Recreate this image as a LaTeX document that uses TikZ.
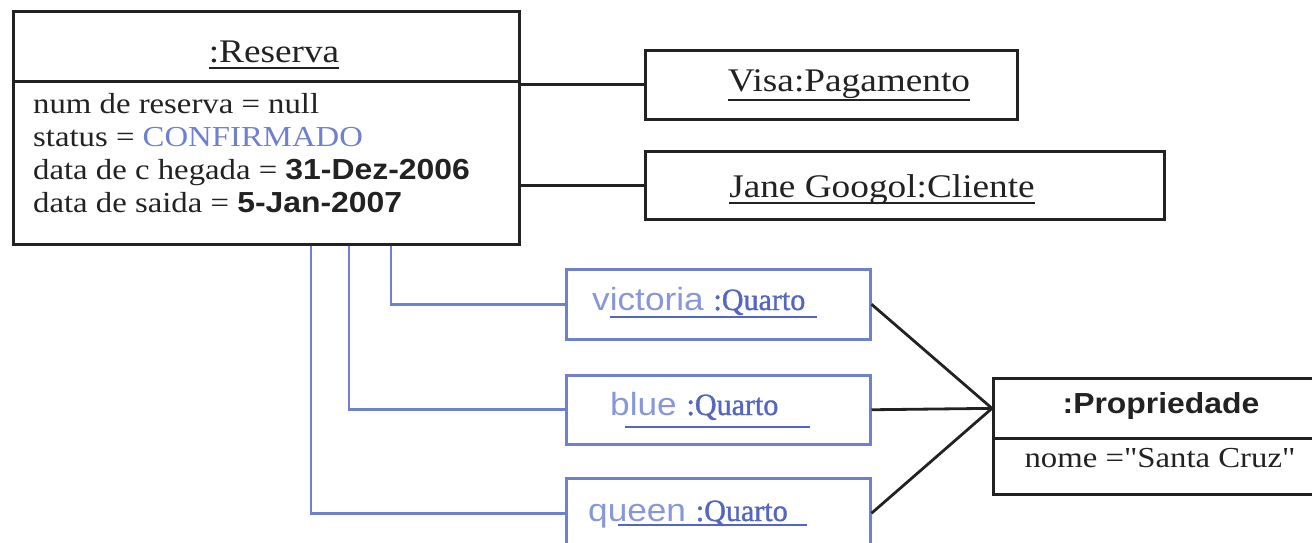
\documentclass[tikz,border=0pt]{standalone}
\usepackage{fontspec}
\newfontfamily\tms[FakeStretch=1.13]{Liberation Serif}
\newfontfamily\qtm[FakeStretch=0.97,FakeBold=1.2]{Liberation Serif}
\newfontfamily\ars[FakeStretch=1.1]{Liberation Sans}
\newcommand\fsz[1]{\fontsize{#1}{#1}\selectfont}
\definecolor{ink}{HTML}{222222}
\definecolor{qblue}{HTML}{6F81CE}
\definecolor{qtext}{HTML}{8797D8}
\definecolor{qdark}{HTML}{5466C0}
\begin{document}
\begin{tikzpicture}[x=1pt, y=-1pt,
  obox/.style={draw=ink, line width=2.7pt, inner sep=0pt, anchor=north west},
  qbox/.style={draw=qblue, line width=2.5pt, inner sep=0pt, anchor=north west,
               minimum width=304pt},
  txt/.style={inner sep=0pt, anchor=base, text=ink},
  ltxt/.style={inner sep=0pt, anchor=base west, text=ink},
  bline/.style={draw=ink, line width=2.8pt},
  qline/.style={draw=qblue, line width=2.7pt},
  uline/.style={draw=ink, line width=2pt},
  qul/.style={draw=qdark, line width=2pt}]
\useasboundingbox (0,0) rectangle (1312,543);

% --- object boxes ---
\node[obox, minimum width=506pt, minimum height=70pt]  (resT) at (12,10) {};
\node[obox, minimum width=506pt, minimum height=163pt] (resA) at (12,80) {};
\node[obox, minimum width=372pt, minimum height=69pt]  (visa) at (644,49) {};
\node[obox, minimum width=519pt, minimum height=68pt]  (jane) at (644,150) {};
\node[qbox, minimum height=70pt] (vic) at (565,268) {};
\node[qbox, minimum height=69pt] (blu) at (565,374) {};
\node[qbox, minimum height=70pt] (que) at (565,477) {};
\node[obox, minimum width=360pt, minimum height=60pt] (propT) at (992,377) {};
\node[obox, minimum width=360pt, minimum height=56pt] (propA) at (992,437) {};

% --- texts ---
\node[txt] (tRes) at (274,63) {\tms\fsz{33}:Reserva};
\node[ltxt] (a1) at (33,113) {\tms\fsz{29}num de reserva = null};
\node[ltxt] (a2) at (33,146) {\tms\fsz{29}status = \textcolor{qblue}{CONFIRMADO}};
\node[ltxt] (a3) at (33,179) {\tms\fsz{29}data de c hegada = {\ars\bfseries\fsz{29}31-Dez-2006}};
\node[ltxt] (a4) at (33,212) {\tms\fsz{29}data de saida = {\ars\bfseries\fsz{29}5-Jan-2007}};
\node[txt] (tVisa) at (849,92) {\tms\fsz{33}Visa:Pagamento};
\node[txt] (tJane) at (882,197) {\tms\fsz{33}Jane Googol:Cliente};
\node[ltxt] (tVic) at (592,310) {{\ars\fsz{32}\color{qtext}victoria }{\qtm\fsz{31}\color{qdark}:Quarto}};
\node[ltxt] (tBlu) at (610,415) {{\ars\fsz{32}\color{qtext}blue }{\qtm\fsz{31}\color{qdark}:Quarto}};
\node[ltxt] (tQue) at (588,521) {{\ars\fsz{32}\color{qtext}queen }{\qtm\fsz{31}\color{qdark}:Quarto}};
\node[txt] (tProp) at (1161,413) {\ars\bfseries\fsz{29}:Propriedade};
\node[txt] (tNome) at (1160,467) {\tms\fsz{29}nome ="Santa Cruz"};

% --- underlines of object names ---
\draw[uline] ([yshift=-5pt]tRes.base west) -- ([yshift=-5pt]tRes.base east);
\draw[uline] ([yshift=-8pt]tVisa.base west) -- ([yshift=-8pt]tVisa.base east);
\draw[uline] ([yshift=-6pt]tJane.base west) -- ([yshift=-6pt]tJane.base east);
\draw[qul] ([xshift=18pt,yshift=-7pt]tVic.base west) -- ([xshift=225pt,yshift=-7pt]tVic.base west);
\draw[qul] ([xshift=15pt,yshift=-12pt]tBlu.base west) -- ([xshift=200pt,yshift=-12pt]tBlu.base west);
\draw[qul] ([xshift=30pt,yshift=-4pt]tQue.base west) -- ([xshift=219pt,yshift=-4pt]tQue.base west);

% --- links from the reservation ---
\draw[bline] (resA.east |- visa.west) -- (visa.west);
\draw[bline] (resA.east |- jane.west) -- (jane.west);
\coordinate (k1) at (391,0);
\coordinate (k2) at (349,0);
\coordinate (k3) at (311,0);
\draw[qline] (resA.south -| k1) |- (vic.west);
\draw[qline] (resA.south -| k2) |- (blu.west);
\draw[qline] (resA.south -| k3) |- (que.west);

% --- links from the rooms to the property ---
\draw[bline] (vic.east) -- (propT.west);
\draw[bline] (blu.east) -- (propT.west);
\draw[bline] (que.east) -- (propT.west);
\end{tikzpicture}
\end{document}
